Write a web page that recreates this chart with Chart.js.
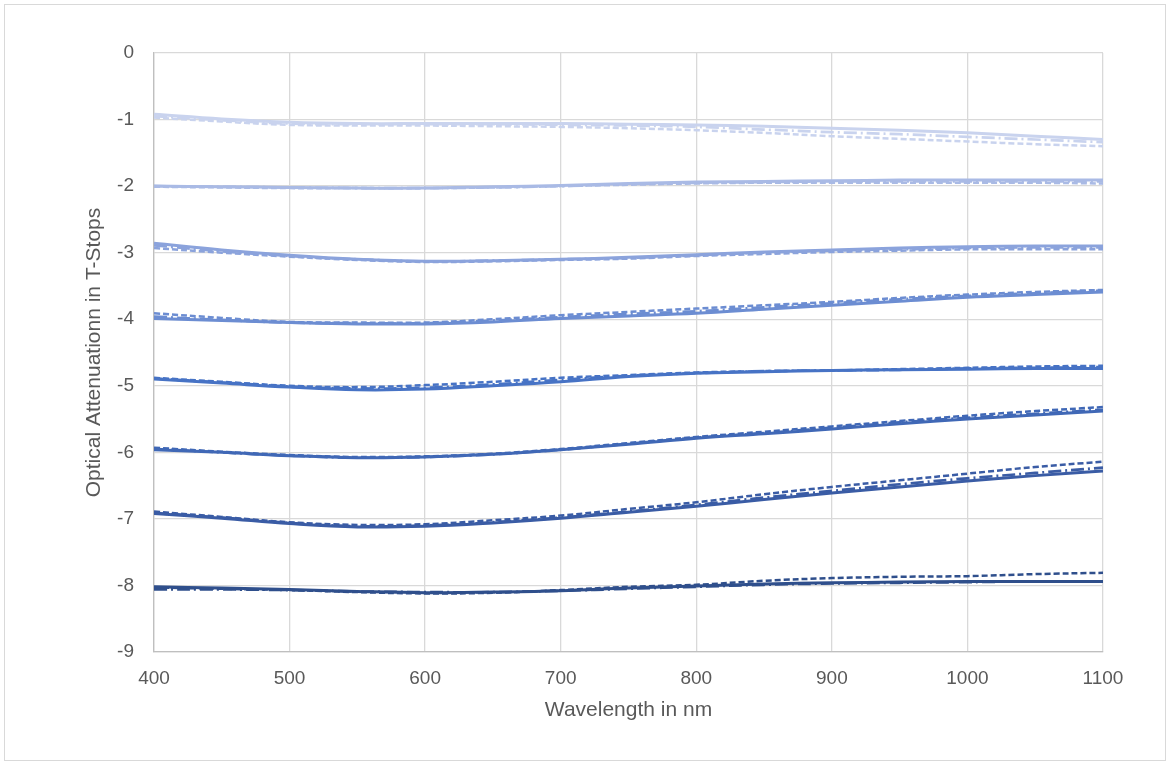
<!DOCTYPE html>
<html>
<head>
<meta charset="utf-8">
<script src="https://cdn.jsdelivr.net/npm/chart.js@4.4.1/dist/chart.umd.min.js"></script>
<style>
  html, body { margin: 0; padding: 0; background: #ffffff; }
  #wrap { width: 1170px; height: 765px; position: relative; }
</style>
</head>
<body>
<div id="wrap"><canvas id="c" width="1170" height="765"></canvas></div>
<script>
// ---- Data ----
const wavelengths = [400,450,500,550,600,650,700,750,800,850,900,950,1000,1050,1100];

const g1Solid   = [-0.92,-0.99,-1.04,-1.06,-1.06,-1.06,-1.06,-1.07,-1.08,-1.10,-1.13,-1.16,-1.20,-1.25,-1.30];
const g1DashDot = [-0.95,-1.01,-1.06,-1.07,-1.07,-1.07,-1.08,-1.09,-1.11,-1.15,-1.19,-1.22,-1.26,-1.30,-1.34];
const g1Dash    = [-0.97,-1.03,-1.08,-1.09,-1.09,-1.10,-1.11,-1.13,-1.16,-1.20,-1.25,-1.29,-1.33,-1.37,-1.40];

const g2Solid   = [-2.00,-2.01,-2.02,-2.03,-2.03,-2.01,-1.99,-1.96,-1.94,-1.93,-1.92,-1.91,-1.91,-1.91,-1.91];
const g2DashDot = [-2.00,-2.01,-2.02,-2.03,-2.03,-2.02,-2.00,-1.97,-1.95,-1.94,-1.93,-1.93,-1.93,-1.93,-1.93];
const g2Dash    = [-2.01,-2.02,-2.03,-2.03,-2.03,-2.02,-2.00,-1.98,-1.96,-1.95,-1.95,-1.95,-1.95,-1.95,-1.96];

const g3Solid   = [-2.86,-2.96,-3.04,-3.10,-3.13,-3.12,-3.10,-3.07,-3.03,-2.99,-2.96,-2.93,-2.91,-2.90,-2.90];
const g3DashDot = [-2.89,-2.98,-3.05,-3.10,-3.13,-3.12,-3.10,-3.08,-3.04,-3.00,-2.97,-2.95,-2.93,-2.92,-2.92];
const g3Dash    = [-2.93,-3.00,-3.06,-3.11,-3.14,-3.13,-3.11,-3.09,-3.05,-3.02,-2.99,-2.97,-2.95,-2.95,-2.95];

const g4Solid   = [-3.99,-4.02,-4.05,-4.07,-4.07,-4.04,-3.99,-3.95,-3.91,-3.85,-3.79,-3.73,-3.67,-3.63,-3.59];
const g4DashDot = [-3.96,-4.01,-4.05,-4.06,-4.06,-4.02,-3.97,-3.92,-3.88,-3.82,-3.76,-3.70,-3.65,-3.61,-3.57];
const g4Dash    = [-3.91,-3.98,-4.04,-4.05,-4.05,-4.00,-3.94,-3.89,-3.84,-3.79,-3.74,-3.68,-3.63,-3.59,-3.56];

const g5Solid   = [-4.90,-4.96,-5.02,-5.06,-5.05,-5.00,-4.94,-4.86,-4.81,-4.79,-4.77,-4.76,-4.75,-4.74,-4.74];
const g5DashDot = [-4.89,-4.95,-5.01,-5.04,-5.03,-4.98,-4.91,-4.85,-4.81,-4.78,-4.77,-4.76,-4.74,-4.73,-4.72];
const g5Dash    = [-4.88,-4.94,-5.00,-5.02,-4.99,-4.94,-4.88,-4.84,-4.80,-4.78,-4.77,-4.75,-4.73,-4.71,-4.70];

const g6Solid   = [-5.96,-6.00,-6.05,-6.08,-6.07,-6.03,-5.96,-5.88,-5.79,-5.72,-5.65,-5.57,-5.50,-5.44,-5.38];
const g6DashDot = [-5.95,-6.00,-6.05,-6.08,-6.07,-6.03,-5.96,-5.87,-5.78,-5.71,-5.63,-5.55,-5.48,-5.42,-5.36];
const g6Dash    = [-5.93,-5.99,-6.04,-6.07,-6.06,-6.02,-5.95,-5.86,-5.77,-5.69,-5.61,-5.53,-5.45,-5.38,-5.32];

const g7Solid   = [-6.92,-6.99,-7.07,-7.12,-7.11,-7.06,-6.99,-6.90,-6.81,-6.71,-6.61,-6.52,-6.43,-6.35,-6.28];
const g7DashDot = [-6.91,-6.98,-7.06,-7.11,-7.10,-7.05,-6.98,-6.89,-6.79,-6.68,-6.58,-6.48,-6.39,-6.31,-6.23];
const g7Dash    = [-6.89,-6.97,-7.05,-7.09,-7.08,-7.02,-6.95,-6.85,-6.75,-6.63,-6.52,-6.42,-6.32,-6.22,-6.14];

const g8Solid   = [-8.02,-8.04,-8.06,-8.09,-8.11,-8.10,-8.08,-8.04,-8.01,-7.98,-7.96,-7.95,-7.94,-7.94,-7.94];
const g8DashDot = [-8.06,-8.06,-8.07,-8.09,-8.10,-8.10,-8.08,-8.05,-8.02,-7.99,-7.97,-7.96,-7.95,-7.94,-7.94];
const g8Dash    = [-8.03,-8.05,-8.07,-8.10,-8.12,-8.11,-8.07,-8.02,-7.99,-7.93,-7.89,-7.87,-7.86,-7.83,-7.81];

const xTicks = [400,500,600,700,800,900,1000,1100];
const yTicks = [0,-1,-2,-3,-4,-5,-6,-7,-8,-9];

const groups = [
  {solid:g1Solid, dd:g1DashDot, dash:g1Dash},
  {solid:g2Solid, dd:g2DashDot, dash:g2Dash},
  {solid:g3Solid, dd:g3DashDot, dash:g3Dash},
  {solid:g4Solid, dd:g4DashDot, dash:g4Dash},
  {solid:g5Solid, dd:g5DashDot, dash:g5Dash},
  {solid:g6Solid, dd:g6DashDot, dash:g6Dash},
  {solid:g7Solid, dd:g7DashDot, dash:g7Dash},
  {solid:g8Solid, dd:g8DashDot, dash:g8Dash}
];

// ---- Styles ----
const groupColors = ['#c9d3ee','#a9bae5','#8ba3dc','#6c8dd2','#4773c5','#4068b6','#3a5ca5','#2f4f8c'];
const styles = [
  {key:'solid', dash:[], w:3.0},
  {key:'dd', dash:[13,4,2,4], w:2.7},
  {key:'dash', dash:[6,3], w:2.5}
];

const datasets = [];
groups.forEach((g, gi) => {
  styles.forEach(s => {
    datasets.push({
      label: 'G' + (gi+1) + ' ' + s.key,
      data: wavelengths.map((x, i) => ({x: x, y: g[s.key][i]})),
      borderColor: groupColors[gi],
      borderWidth: s.w,
      borderDash: s.dash,
      pointRadius: 0,
      tension: 0.4,
      fill: false
    });
  });
});

const txt = '#595959';
const fontFam = '"Liberation Sans", Arial, sans-serif';

const frame = {
  id: 'frame',
  beforeDraw(chart) {
    const ctx = chart.ctx;
    ctx.save();
    ctx.fillStyle = '#ffffff';
    ctx.fillRect(0, 0, chart.width, chart.height);
    ctx.strokeStyle = '#d9d9d9';
    ctx.lineWidth = 1;
    ctx.strokeRect(4.5, 4.5, chart.width - 9, chart.height - 9);
    ctx.restore();
  }
};

new Chart(document.getElementById('c'), {
  type: 'line',
  data: { datasets },
  plugins: [frame],
  options: {
    responsive: false,
    animation: false,
    layout: { padding: { left: 0, top: 53, right: 67, bottom: 0 } },
    plugins: { legend: { display: false }, tooltip: { enabled: false } },
    scales: {
      x: {
        type: 'linear',
        min: 400, max: 1100,
        afterBuildTicks: (scale) => { scale.ticks = xTicks.map(v => ({value: v})); },
        afterFit: (scale) => { scale.height = 765 - 652; },
        grid: { color: '#d9d9d9', lineWidth: 1.3, drawTicks: false },
        border: { color: '#bfbfbf', width: 1.3 },
        ticks: { color: txt, font: { family: fontFam, size: 19 }, padding: 15, maxRotation: 0,
                 callback: (v) => String(v) },
        title: { display: true, text: 'Wavelength in nm', color: txt,
                 font: { family: fontFam, size: 21 }, padding: { top: 0, bottom: 42 } }
      },
      y: {
        type: 'linear',
        min: -9, max: 0,
        afterBuildTicks: (scale) => { scale.ticks = yTicks.map(v => ({value: v})); },
        afterFit: (scale) => { scale.width = 154; },
        grid: { color: '#d9d9d9', lineWidth: 1.3, drawTicks: false },
        border: { color: '#bfbfbf', width: 1.3 },
        ticks: { color: txt, font: { family: fontFam, size: 19 }, padding: 20,
                 callback: (v) => String(v) },
        title: { display: true, text: 'Optical Attenuationn in T-Stops', color: txt,
                 font: { family: fontFam, size: 21 }, padding: { top: 82, bottom: 0 } }
      }
    }
  }
});
</script>
</body>
</html>
